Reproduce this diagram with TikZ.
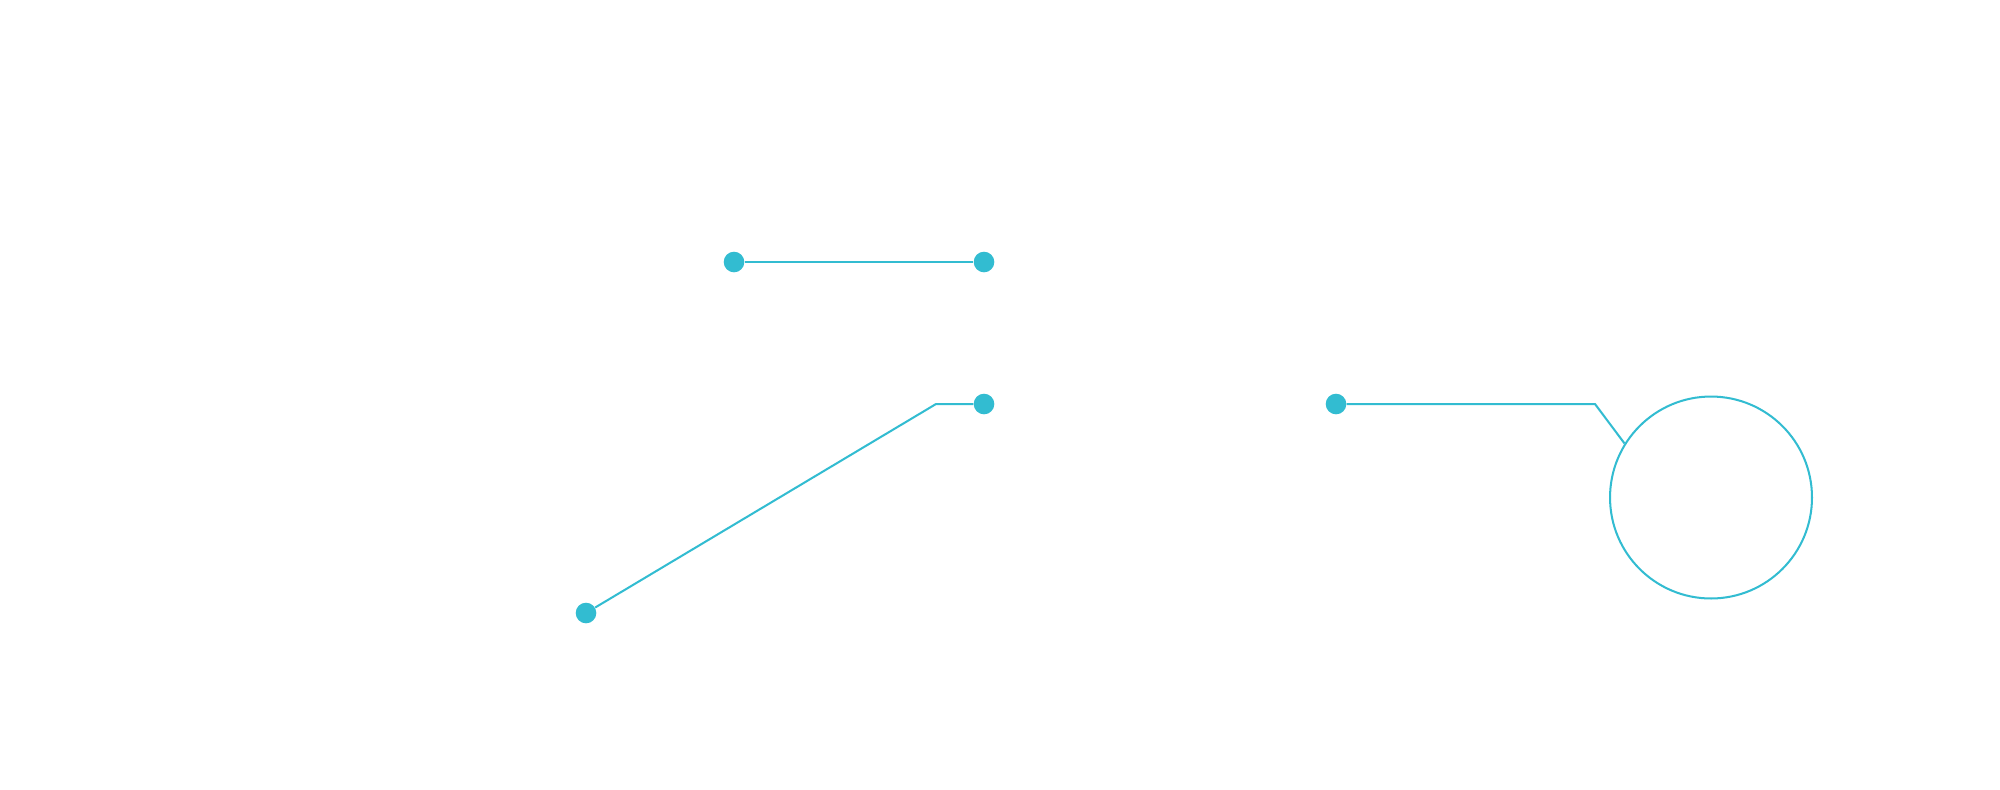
\documentclass[tikz,border=0pt]{standalone}
\definecolor{tealc}{RGB}{50,188,209}
\tikzset{
  dotnode/.style={circle,fill=tealc,draw=none,minimum size=0.412cm,inner sep=0pt},
  conn/.style={draw=tealc,line width=1.15pt},
  ring/.style={circle,draw=tealc,line width=1.15pt,minimum size=4.04cm,inner sep=0pt}
}
\begin{document}
\begin{tikzpicture}[x=0.02cm,y=-0.02cm]
\useasboundingbox[fill=white] (0,0) rectangle (2000,789);
\node[dotnode] (a1) at (734,262) {};
\node[dotnode] (a2) at (984,262) {};
\node[dotnode] (b1) at (984,404) {};
\node[dotnode] (b2) at (586,613) {};
\node[dotnode] (c1) at (1336,404) {};
\node[ring] (circ) at (1711,497.5) {};
\coordinate (be) at (936,404);
\coordinate (ce) at (1595,404);
\draw[conn] (a1) -- (a2);
\draw[conn] (b1) -- (be) -- (b2);
\draw[conn] (c1) -- (ce) -- (circ.148);
\end{tikzpicture}
\end{document}
